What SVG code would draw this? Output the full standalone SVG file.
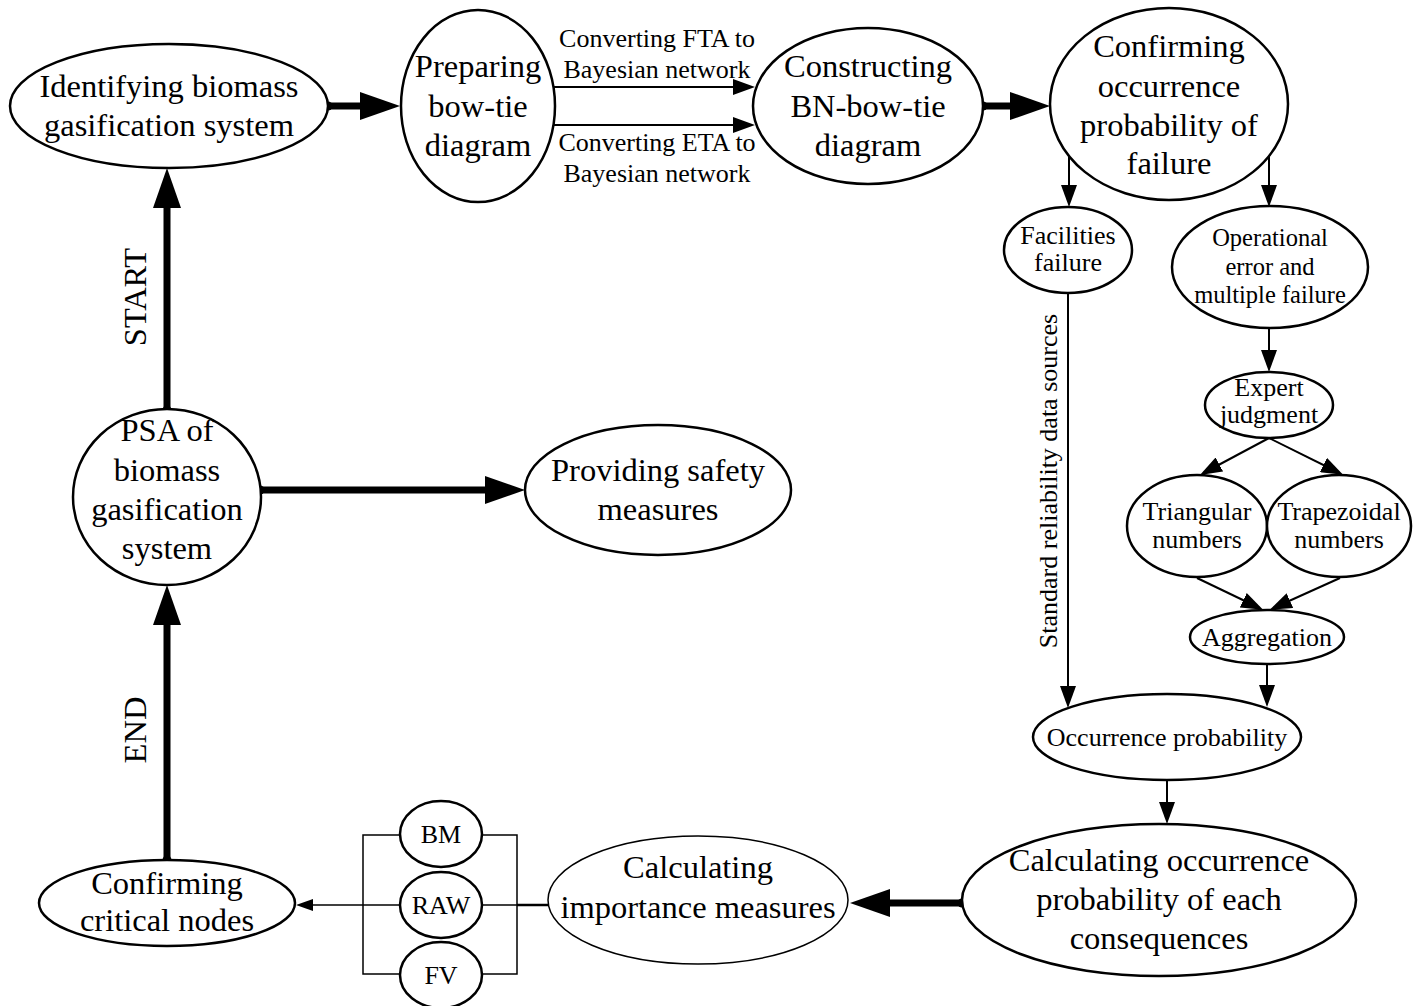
<svg xmlns="http://www.w3.org/2000/svg" width="1421" height="1006" viewBox="0 0 1421 1006">
<style>
.n{fill:#fff;stroke:#000;stroke-width:2.5}
.thin-n{fill:#fff;stroke:#000;stroke-width:1.5}
.t{font-family:"Liberation Serif","Times New Roman",serif;fill:#000;text-anchor:middle}
.L{font-size:32.5px}
.S{font-size:26px}
.thick{stroke:#000;stroke-width:7;fill:none;marker-end:url(#big);marker-start:url(#dot)}
.thin{stroke:#000;stroke-width:2;fill:none;marker-end:url(#small)}
.plain{stroke:#000;stroke-width:1.5;fill:none}
</style>
<defs>
<marker id="big" viewBox="0 0 40 28" refX="10" refY="14" markerWidth="40" markerHeight="28" markerUnits="userSpaceOnUse" orient="auto"><path d="M0,0 L40,14 L0,28 z" fill="#000"/></marker>
<marker id="small" viewBox="0 0 22 16" refX="18" refY="8" markerWidth="22" markerHeight="16" markerUnits="userSpaceOnUse" orient="auto"><path d="M0,0 L22,8 L0,16 z" fill="#000"/></marker>
<marker id="tiny" viewBox="0 0 17 12" refX="14" refY="6" markerWidth="17" markerHeight="12" markerUnits="userSpaceOnUse" orient="auto"><path d="M0,0 L17,6 L0,12 z" fill="#000"/></marker>
<marker id="dot" viewBox="0 0 10 10" refX="5" refY="5" markerWidth="10" markerHeight="10" markerUnits="userSpaceOnUse"><circle cx="5" cy="5" r="4.5" fill="#000"/></marker>
</defs>
<rect width="1421" height="1006" fill="#fff"/>

<g id="connectors">
<line class="thick" x1="328" y1="106" x2="370" y2="106"/>
<line class="thin" x1="553" y1="87" x2="751" y2="87"/>
<line class="thin" x1="553" y1="125" x2="751" y2="125"/>
<line class="thick" x1="983" y1="106" x2="1020" y2="106"/>
<line class="thin" x1="1069" y1="157" x2="1069" y2="203"/>
<line class="thin" x1="1269" y1="153" x2="1269" y2="203"/>
<line class="thin" x1="1269" y1="328" x2="1269" y2="368"/>
<line class="thin" x1="1269" y1="438" x2="1203.5" y2="473"/>
<line class="thin" x1="1269" y1="438" x2="1339.5" y2="473"/>
<line class="thin" x1="1197" y1="578" x2="1259.5" y2="608"/>
<line class="thin" x1="1340" y1="578" x2="1273.5" y2="608"/>
<line class="thin" x1="1267" y1="665" x2="1267" y2="703"/>
<line class="thin" x1="1068" y1="293" x2="1068" y2="704"/>
<line class="thin" x1="1167" y1="780" x2="1167" y2="820"/>
<line class="thick" x1="962" y1="903" x2="880" y2="903"/>
<line stroke="#000" stroke-width="2.5" x1="548" y1="905" x2="517" y2="905"/>
<line class="plain" x1="517" y1="905" x2="482" y2="905"/>
<path class="plain" d="M400,835 H363 V974 H400 M482,835 H517 V974 H482"/>
<line stroke="#000" stroke-width="1.5" x1="400" y1="905" x2="299" y2="905" marker-end="url(#tiny)"/>
<line class="thick" x1="167" y1="860" x2="167" y2="615"/>
<line class="thick" x1="167" y1="410" x2="167" y2="198"/>
<line class="thick" x1="260" y1="490" x2="495" y2="490"/>
<text class="t S" x="657" y="47">Converting FTA to</text>
<text class="t S" x="657" y="78">Bayesian network</text>
<text class="t S" x="657" y="151">Converting ETA to</text>
<text class="t S" x="657" y="182">Bayesian network</text>
<text class="t S" transform="translate(1057,481) rotate(-90)">Standard reliability data sources</text>
<text class="t L" transform="translate(146,297) rotate(-90)">START</text>
<text class="t L" transform="translate(146,730) rotate(-90)">END</text>
</g>

<g id="n-identifying">
<ellipse class="n" cx="169" cy="106" rx="159" ry="62"/>
<text class="t L" x="169" y="97">Identifying biomass</text>
<text class="t L" x="169" y="136">gasification system</text>
</g>
<g id="n-preparing">
<ellipse class="n" cx="478" cy="106" rx="77" ry="96"/>
<text class="t L" x="478" y="77">Preparing</text>
<text class="t L" x="478" y="117">bow-tie</text>
<text class="t L" x="478" y="156">diagram</text>
</g>
<g id="n-constructing">
<ellipse class="n" cx="868" cy="106" rx="115" ry="78"/>
<text class="t L" x="868" y="77">Constructing</text>
<text class="t L" x="868" y="117">BN-bow-tie</text>
<text class="t L" x="868" y="156">diagram</text>
</g>
<g id="n-confirming-failure">
<ellipse class="n" cx="1169" cy="104" rx="119" ry="96"/>
<text class="t L" x="1169" y="57">Confirming</text>
<text class="t L" x="1169" y="97">occurrence</text>
<text class="t L" x="1169" y="136">probability of</text>
<text class="t L" x="1169" y="174">failure</text>
</g>
<g id="n-facilities">
<ellipse class="n" cx="1068" cy="250" rx="64" ry="43"/>
<text class="t S" x="1068" y="244">Facilities</text>
<text class="t S" x="1068" y="271">failure</text>
</g>
<g id="n-operational">
<ellipse class="n" cx="1270" cy="267" rx="98" ry="61"/>
<text class="t" style="font-size:24.5px" x="1270" y="246">Operational</text>
<text class="t" style="font-size:24.5px" x="1270" y="274.5">error and</text>
<text class="t" style="font-size:24.5px" x="1270" y="303">multiple failure</text>
</g>
<g id="n-expert">
<ellipse class="n" cx="1269" cy="405" rx="64" ry="33"/>
<text class="t S" x="1269" y="396">Expert</text>
<text class="t S" x="1269" y="423">judgment</text>
</g>
<g id="n-triangular">
<ellipse class="n" cx="1197" cy="526" rx="70" ry="51"/>
<text class="t S" x="1197" y="520">Triangular</text>
<text class="t S" x="1197" y="548">numbers</text>
</g>
<g id="n-trapezoidal">
<ellipse class="n" cx="1339" cy="526" rx="72" ry="51"/>
<text class="t S" x="1339" y="520">Trapezoidal</text>
<text class="t S" x="1339" y="548">numbers</text>
</g>
<g id="n-aggregation">
<ellipse class="n" cx="1267" cy="637" rx="77" ry="27"/>
<text class="t S" x="1267" y="646">Aggregation</text>
</g>
<g id="n-occurrence">
<ellipse class="n" cx="1167" cy="737" rx="134" ry="43"/>
<text class="t S" x="1167" y="746">Occurrence probability</text>
</g>
<g id="n-calc-occurrence">
<ellipse class="n" cx="1159" cy="900" rx="197" ry="76"/>
<text class="t L" x="1159" y="871">Calculating occurrence</text>
<text class="t L" x="1159" y="910">probability of each</text>
<text class="t L" x="1159" y="949">consequences</text>
</g>
<g id="n-calc-importance">
<ellipse class="thin-n" cx="698" cy="900" rx="150" ry="64"/>
<text class="t L" x="698" y="878">Calculating</text>
<text class="t L" x="698" y="918">importance measures</text>
</g>
<g id="n-bm">
<ellipse class="n" cx="441" cy="834" rx="41" ry="33"/>
<text class="t S" x="441" y="843">BM</text>
</g>
<g id="n-raw">
<ellipse class="n" cx="441" cy="905" rx="41" ry="33"/>
<text class="t S" x="441" y="914">RAW</text>
</g>
<g id="n-fv">
<ellipse class="n" cx="441" cy="975" rx="41" ry="33"/>
<text class="t S" x="441" y="984">FV</text>
</g>
<g id="n-critical">
<ellipse class="n" cx="167" cy="903" rx="128" ry="43"/>
<text class="t L" x="167" y="894">Confirming</text>
<text class="t L" x="167" y="931">critical nodes</text>
</g>
<g id="n-psa">
<ellipse class="n" cx="167" cy="497" rx="94" ry="88"/>
<text class="t L" x="167" y="441">PSA of</text>
<text class="t L" x="167" y="481">biomass</text>
<text class="t L" x="167" y="520">gasification</text>
<text class="t L" x="167" y="559">system</text>
</g>
<g id="n-providing">
<ellipse class="n" cx="658" cy="490" rx="133" ry="65"/>
<text class="t L" x="658" y="481">Providing safety</text>
<text class="t L" x="658" y="520">measures</text>
</g>
</svg>
